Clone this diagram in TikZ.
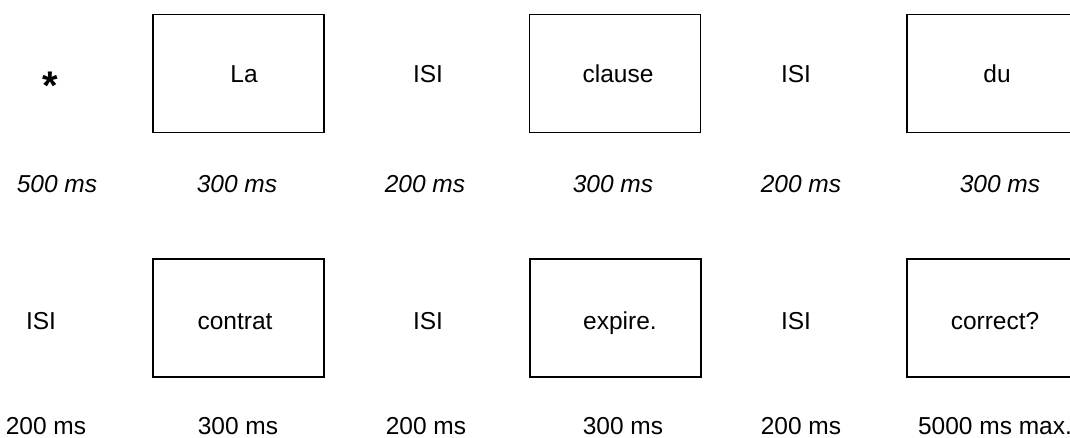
\documentclass[tikz,border=0pt]{standalone}
\usepackage{fontspec}
\setmainfont{Liberation Sans}
\begin{document}
\begin{tikzpicture}[x=1pt,y=-1pt,
  frame/.style={draw, line width=1.7pt, minimum width=171pt, minimum height=118pt, inner sep=0pt},
  word/.style={anchor=base, inner sep=0pt, font=\fontsize{24.5}{28}\selectfont},
  dur/.style={anchor=base, inner sep=0pt, font=\fontsize{24.5}{28}\selectfont\itshape},
  durup/.style={anchor=base, inner sep=0pt, text depth=0pt, font=\fontsize{24.5}{28}\selectfont}]
\useasboundingbox (0,0) rectangle (1070,438);
\clip (0,0) rectangle (1070,438);

% first line of the trial
\node[anchor=base, inner sep=0pt, font=\fontsize{40}{42}\selectfont\bfseries] (fix) at (50,100) {*};
\node[frame] (b1) at (238.5,73.5) {};
\node[word] (w1) at (244,82.5) {La};
\node[word] (i1) at (428,82.5) {ISI};
\node[frame] (b2) at (615,73.5) {};
\node[word] (w2) at (618,82.5) {clause};
\node[word] (i2) at (796,82.5) {ISI};
\node[frame] (b3) at (992.5,73.5) {};
\node[word] (w3) at (997,82.5) {du};

\node[dur] (t1) at (57,193) {500 ms};
\node[dur] (t2) at (237,193) {300 ms};
\node[dur] (t3) at (425,193) {200 ms};
\node[dur] (t4) at (613,193) {300 ms};
\node[dur] (t5) at (801,193) {200 ms};
\node[dur] (t6) at (1000,193) {300 ms};

% second line of the trial
\node[word] (i3) at (41,329.5) {ISI};
\node[frame] (b4) at (238.5,318) {};
\node[word] (w4) at (235,329) {contrat};
\node[word] (i4) at (428,329.5) {ISI};
\node[frame] (b5) at (615.5,318) {};
\node[word] (w5) at (620,329) {expire.};
\node[word] (i5) at (796,329.5) {ISI};
\node[frame] (b6) at (992.5,318) {};
\node[word] (w6) at (995,329) {correct?};

\node[durup] (t7) at (46,434) {200 ms};
\node[durup] (t8) at (238,434) {300 ms};
\node[durup] (t9) at (426,434) {200 ms};
\node[durup] (t10) at (623,434) {300 ms};
\node[durup] (t11) at (801,434) {200 ms};
\node[durup] (t12) at (995,434) {5000 ms max.};
\end{tikzpicture}
\end{document}
